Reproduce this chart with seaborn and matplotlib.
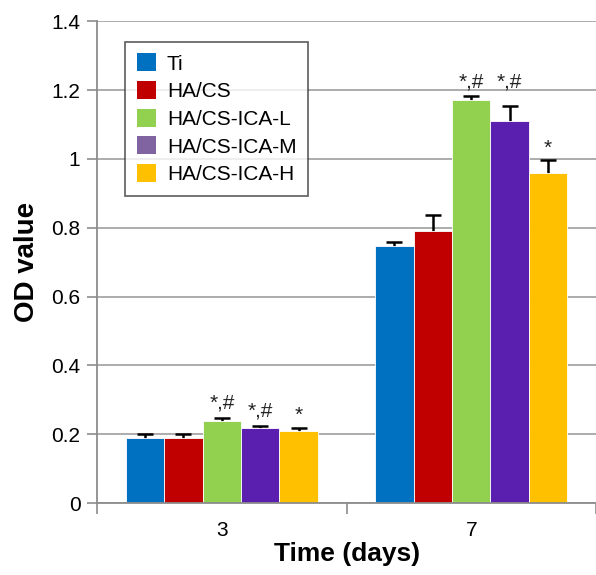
import numpy as np
import pandas as pd
import matplotlib
matplotlib.use('Agg')
import matplotlib.pyplot as plt
from matplotlib.patches import Patch
import seaborn as sns

# %% Data
days = ['3', '7']
groups = ['Ti', 'HA/CS', 'HA/CS-ICA-L', 'HA/CS-ICA-M', 'HA/CS-ICA-H']
od_day3 = [0.190, 0.190, 0.238, 0.217, 0.209]
od_day7 = [0.746, 0.792, 1.172, 1.109, 0.958]
err_day3 = [0.011, 0.010, 0.010, 0.007, 0.010]
err_day7 = [0.012, 0.045, 0.011, 0.046, 0.040]
marks_day3 = ['', '', '*,#', '*,#', '*']
marks_day7 = ['', '', '*,#', '*,#', '*']
# height of the significance marks (OD units), as placed in the figure
mark_y_day3 = [0, 0, 0.290, 0.268, 0.255]
mark_y_day7 = [0, 0, 1.224, 1.224, 1.032]

bar_colors = ['#0070C0', '#C00000', '#92D050', '#5B1FAF', '#FFC000']
legend_colors = ['#0070C0', '#C00000', '#92D050', '#8064A2', '#FFC000']

df = pd.DataFrame({
    'day': np.repeat(days, len(groups)),
    'group': groups * 2,
    'od': od_day3 + od_day7,
    'err': err_day3 + err_day7,
    'mark': marks_day3 + marks_day7,
    'mark_y': mark_y_day3 + mark_y_day7,
})

# %% Plot
sns.set_style('white')
plt.rcParams['font.family'] = ['Liberation Sans', 'DejaVu Sans']
plt.rcParams['text.color'] = 'black'
plt.rcParams['axes.labelcolor'] = 'black'
plt.rcParams['xtick.labelcolor'] = 'black'
plt.rcParams['ytick.labelcolor'] = 'black'

fig = plt.figure(figsize=(5.96, 5.75), dpi=100)
ax = fig.add_axes([0.163, 0.125, 0.837, 0.838])

sns.barplot(data=df, x='day', y='od', hue='group', hue_order=groups,
            palette=bar_colors, width=0.77, errorbar=None, saturation=1,
            legend=False, ax=ax, zorder=2, linewidth=0.6, edgecolor='white')

# error bars (lower half hidden behind the bars) and significance marks
for hue_i, g in enumerate(groups):
    cont = ax.containers[hue_i]
    sub = df[df['group'] == g].set_index('day').loc[days]
    for bar, (_, row) in zip(cont.patches, sub.iterrows()):
        xc = bar.get_x() + bar.get_width() / 2
        ax.errorbar(xc, row['od'], yerr=row['err'], fmt='none',
                    ecolor='black', elinewidth=1.8, capsize=6, capthick=1.8,
                    zorder=1.5)
        if row['mark']:
            ax.text(xc, row['mark_y'], row['mark'],
                    ha='center', va='center', fontsize=15, color='#222222')

ax.set_ylim(0, 1.4)
ax.set_xlim(-0.5, 1.45)
ax.set_yticks(np.arange(0, 1.41, 0.2))
ax.set_yticklabels(['0', '0.2', '0.4', '0.6', '0.8', '1', '1.2', '1.4'])
ax.yaxis.grid(True, color='#A6A6A6', linewidth=1.3)
ax.set_axisbelow(True)

for s in ['top', 'right']:
    ax.spines[s].set_visible(False)
for s in ['left', 'bottom']:
    ax.spines[s].set_color('#8C8C8C')
    ax.spines[s].set_linewidth(1.3)

ax.tick_params(axis='y', which='major', direction='out', length=7,
               color='#8C8C8C', width=1.2, labelsize=15, left=True, pad=5)
ax.tick_params(axis='x', which='major', length=0, labelsize=15, pad=13)
ax.set_xticks([-0.5, 0.5, 1.5], minor=True)
ax.tick_params(axis='x', which='minor', direction='out', length=8,
               color='#8C8C8C', width=1.2, bottom=True)

ax.set_ylabel('OD value', fontsize=20, fontweight='bold', labelpad=8)
ax.set_xlabel('Time (days)', fontsize=19, fontweight='bold', labelpad=1)

handles = [Patch(facecolor=c, edgecolor='none') for c in legend_colors]
leg = ax.legend(handles, groups, loc='upper left',
                bbox_to_anchor=(0.056, 0.957), fontsize=15, frameon=True,
                fancybox=False, edgecolor='#333333', handlelength=0.95,
                handleheight=0.95, handletextpad=0.5, labelspacing=0.36,
                borderpad=0.55, borderaxespad=0)
leg.get_frame().set_linewidth(1.2)

fig.savefig('out.png', dpi=100)
